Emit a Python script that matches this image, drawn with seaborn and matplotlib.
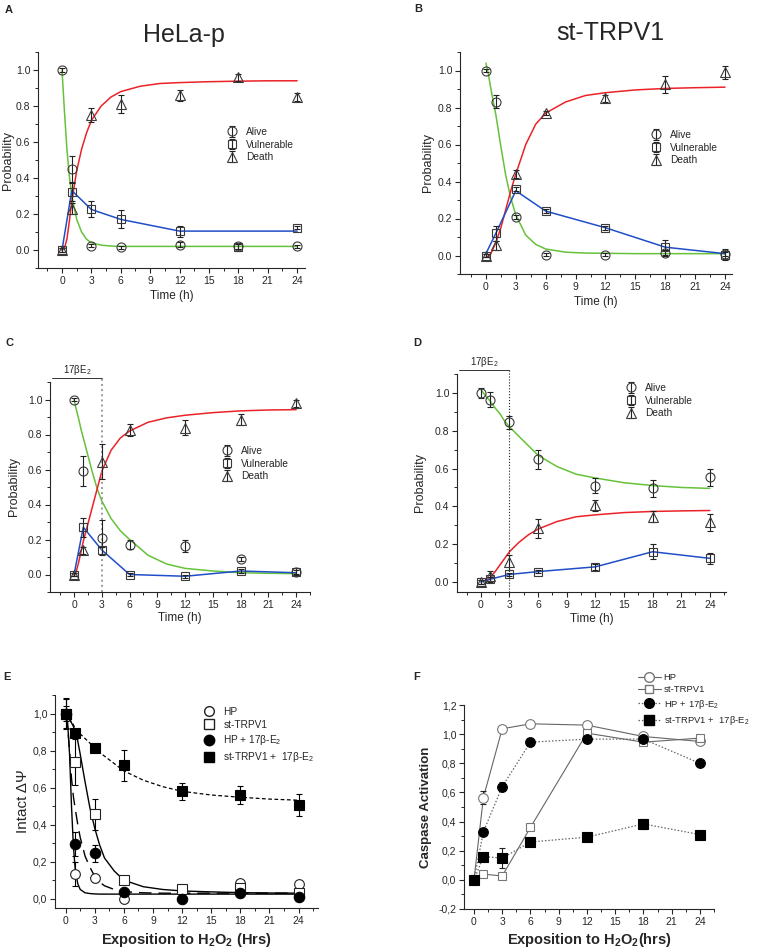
import matplotlib
matplotlib.use("Agg")
import matplotlib.pyplot as plt
import matplotlib.transforms as mtransforms
from matplotlib.lines import Line2D
from matplotlib.ticker import MultipleLocator, FuncFormatter
import seaborn as sns

# ---------------- data ----------------
t = [0, 1, 3, 6, 12, 18, 24]

# A: HeLa-p
A_alive = [1.0, 0.45, 0.025, 0.015, 0.03, 0.02, 0.02]
A_alive_err = [0.01, 0.07, 0.01, 0.01, 0.015, 0.015, 0.01]
A_vul = [0.0, 0.32, 0.23, 0.17, 0.105, 0.015, 0.125]
A_vul_err = [0.01, 0.05, 0.045, 0.05, 0.03, 0.02, 0.01]
A_death = [0.0, 0.23, 0.75, 0.81, 0.86, 0.96, 0.85]
A_death_err = [0.01, 0.03, 0.04, 0.05, 0.03, 0.02, 0.02]
A_vul_line = [0.0, 0.33, 0.225, 0.17, 0.105, 0.105, 0.105]

# B: st-TRPV1
B_alive = [1.0, 0.83, 0.21, 0.005, 0.005, 0.015, 0.01]
B_alive_err = [0.01, 0.035, 0.01, 0.01, 0.01, 0.015, 0.01]
B_vul = [0.0, 0.12, 0.36, 0.24, 0.15, 0.045, 0.005]
B_vul_err = [0.01, 0.04, 0.01, 0.01, 0.01, 0.04, 0.03]
B_death = [0.0, 0.055, 0.44, 0.77, 0.85, 0.925, 0.99]
B_death_err = [0.01, 0.025, 0.02, 0.01, 0.02, 0.045, 0.035]
B_vul_line = [0.01, 0.12, 0.35, 0.24, 0.15, 0.045, 0.01]

# C: HeLa-p + 17bE2
C_alive = [1.0, 0.59, 0.21, 0.17, 0.165, 0.09, 0.015]
C_alive_err = [0.01, 0.085, 0.1, 0.025, 0.035, 0.01, 0.02]
C_vul = [0.0, 0.27, 0.14, 0.0, -0.01, 0.02, 0.015]
C_vul_err = [0.01, 0.055, 0.02, 0.01, 0.01, 0.01, 0.01]
C_death = [0.0, 0.14, 0.645, 0.825, 0.84, 0.885, 0.98]
C_death_err = [0.01, 0.02, 0.1, 0.035, 0.045, 0.03, 0.02]
C_vul_line = [0.0, 0.27, 0.14, 0.0, -0.01, 0.02, 0.01]

# D: st-TRPV1 + 17bE2
D_alive = [1.0, 0.965, 0.845, 0.65, 0.51, 0.495, 0.555]
D_alive_err = [0.025, 0.04, 0.035, 0.05, 0.04, 0.045, 0.045]
D_vul = [0.0, 0.015, 0.04, 0.055, 0.08, 0.16, 0.125]
D_vul_err = [0.01, 0.01, 0.01, 0.01, 0.015, 0.04, 0.03]
D_death = [0.0, 0.03, 0.105, 0.285, 0.405, 0.345, 0.315]
D_death_err = [0.01, 0.03, 0.04, 0.05, 0.03, 0.03, 0.045]
D_vul_line = [0.0, 0.015, 0.04, 0.055, 0.08, 0.16, 0.125]

# fitted curves of A-D, read at these times
fit_t = [0, 0.25, 0.5, 0.75, 1, 1.5, 2, 2.5, 3, 4, 5, 6, 8, 10, 12, 15, 18, 21, 24]
A_alive_fit = [1.0, 0.77, 0.56, 0.41, 0.30, 0.17, 0.10, 0.06, 0.04, 0.027, 0.022, 0.02,
               0.02, 0.02, 0.02, 0.02, 0.02, 0.02, 0.02]
A_death_fit = [0.0, 0.01, 0.06, 0.16, 0.27, 0.44, 0.56, 0.65, 0.72, 0.80, 0.85, 0.88,
               0.91, 0.925, 0.93, 0.935, 0.938, 0.94, 0.94]
B_alive_fit = [1.04, 0.98, 0.90, 0.83, 0.76, 0.59, 0.43, 0.31, 0.22, 0.11, 0.06, 0.035,
               0.018, 0.013, 0.012, 0.01, 0.01, 0.01, 0.01]
B_death_fit = [-0.01, -0.005, 0.01, 0.04, 0.07, 0.15, 0.25, 0.35, 0.44, 0.60, 0.71, 0.77,
               0.83, 0.865, 0.88, 0.895, 0.903, 0.907, 0.91]
C_alive_fit = [1.0, 0.94, 0.89, 0.83, 0.78, 0.68, 0.58, 0.49, 0.42, 0.32, 0.25, 0.20,
               0.11, 0.06, 0.035, 0.02, 0.01, 0.007, 0.005]
C_death_fit = [-0.01, 0.02, 0.07, 0.13, 0.19, 0.29, 0.39, 0.49, 0.59, 0.71, 0.78, 0.82,
               0.87, 0.895, 0.91, 0.925, 0.935, 0.94, 0.942]
D_alive_fit = [1.02, 1.0, 0.985, 0.97, 0.955, 0.92, 0.89, 0.85, 0.82, 0.77, 0.72, 0.67,
               0.61, 0.57, 0.55, 0.525, 0.51, 0.50, 0.495]
D_death_fit = [None, None, 0.0, 0.012, 0.025, 0.055, 0.09, 0.125, 0.16, 0.21, 0.25, 0.28,
               0.32, 0.345, 0.355, 0.367, 0.373, 0.376, 0.378]

# E: intact mitochondrial potential
E_hp = [1.0, 0.135, 0.11, 0.0, 0.055, 0.085, 0.08]
E_hp_err = [0.08, 0.065, 0.02, 0.01, 0.01, 0.01, 0.01]
E_st = [1.0, 0.74, 0.455, 0.1, 0.05, 0.06, 0.03]
E_st_err = [0.085, 0.125, 0.085, 0.01, 0.01, 0.01, 0.01]
E_hpe = [1.0, 0.295, 0.245, 0.035, 0.0, 0.032, 0.01]
E_hpe_err = [0.01, 0.065, 0.045, 0.01, 0.01, 0.01, 0.01]
E_ste = [1.0, 0.895, 0.815, 0.72, 0.58, 0.56, 0.507]
E_ste_err = [0.04, 0.02, 0.02, 0.085, 0.045, 0.05, 0.06]

E_fit_t = [0, 0.2, 0.4, 0.6, 0.8, 1, 1.25, 1.5, 2, 2.5, 3, 3.5, 4, 5, 6, 8, 10, 12, 15, 18, 21, 24]
E_hp_fit = [0.98, 0.95, 0.78, 0.50, 0.28, 0.15, 0.08, 0.05, 0.032, 0.028, 0.026, 0.025,
            0.025, 0.025, 0.025, 0.025, 0.025, 0.025, 0.025, 0.025, 0.025, 0.025]
E_hpe_fit = [0.99, 0.93, 0.80, 0.65, 0.55, 0.48, 0.40, 0.33, 0.23, 0.17, 0.12, 0.09,
             0.07, 0.05, 0.038, 0.032, 0.03, 0.03, 0.03, 0.03, 0.03, 0.03]
E_st_fit = [0.98, 0.975, 0.965, 0.95, 0.93, 0.90, 0.85, 0.78, 0.63, 0.49, 0.38, 0.29,
            0.22, 0.15, 0.10, 0.065, 0.05, 0.042, 0.037, 0.033, 0.031, 0.03]
E_ste_fit = [1.0, 0.985, 0.97, 0.955, 0.94, 0.91, 0.90, 0.89, 0.865, 0.84, 0.815, 0.79,
             0.77, 0.73, 0.69, 0.64, 0.605, 0.58, 0.56, 0.548, 0.538, 0.532]

# F: caspase activation
F_hp = [0.0, 0.565, 1.037, 1.071, 1.062, 0.984, 0.95]
F_hp_err = [0.02, 0.045, 0.01, 0.01, 0.01, 0.01, 0.01]
F_st = [0.0, 0.039, 0.027, 0.36, 1.007, 0.945, 0.973]
F_st_err = [0.02, 0.01, 0.01, 0.01, 0.015, 0.01, 0.015]
F_hpe = [0.0, 0.33, 0.64, 0.945, 0.966, 0.966, 0.80]
F_hpe_err = [0.03, 0.01, 0.03, 0.01, 0.01, 0.01, 0.015]
F_ste = [0.0, 0.16, 0.149, 0.26, 0.293, 0.384, 0.311]
F_ste_err = [0.02, 0.01, 0.07, 0.01, 0.01, 0.035, 0.015]

# ---------------- style ----------------
sns.set_style("ticks")
plt.rcParams["font.family"] = ["Liberation Sans", "DejaVu Sans"]
plt.rcParams["mathtext.fontset"] = "custom"
plt.rcParams["mathtext.rm"] = "Liberation Sans"
plt.rcParams["mathtext.it"] = "Liberation Sans:italic"
plt.rcParams["mathtext.bf"] = "Liberation Sans:bold"

GREEN = "#66c23a"
RED = "#ec2228"
BLUE = "#1f4ec8"
W, H = 758, 952

fig = plt.figure(figsize=(W / 100, H / 100), dpi=100)


def add_ax(left, top, right, bottom):
    ax = fig.add_axes([left / W, 1 - bottom / H, (right - left) / W, (bottom - top) / H])
    ax._px = (left, top, right, bottom)
    return ax


def style(ax, xlim, ylim, comma=False):
    ax.set_xlim(*xlim)
    ax.set_ylim(*ylim)
    ax.xaxis.set_major_locator(MultipleLocator(3))
    ax.xaxis.set_minor_locator(MultipleLocator(1.5))
    ax.yaxis.set_major_locator(MultipleLocator(0.2))
    ax.yaxis.set_minor_locator(MultipleLocator(0.1))
    sns.despine(ax=ax)
    for s in ("left", "bottom"):
        ax.spines[s].set_linewidth(0.8)
    ax.tick_params(which="major", direction="out", length=3.5, width=0.8, labelsize=7.5, pad=2)
    ax.tick_params(which="minor", direction="out", length=2, width=0.7)
    if comma:
        ax.yaxis.set_major_formatter(FuncFormatter(lambda v, p: f"{round(v, 1) + 0.0:.1f}".replace(".", ",")))
    else:
        ax.yaxis.set_major_formatter(FuncFormatter(lambda v, p: f"{round(v, 1) + 0.0:.1f}"))


def labels(ax, xlabel, ylabel, ylab_x, xlab_y, size=8.5, ysize=None, weight="normal",
           yweight=None):
    left, top, right, bottom = ax._px
    ax.set_xlabel(xlabel, fontsize=size, fontweight=weight)
    ax.set_ylabel(ylabel, fontsize=ysize or size, fontweight=yweight or weight)
    ax.xaxis.set_label_coords(0.5, (bottom - xlab_y) / (bottom - top))
    ax.yaxis.set_label_coords((ylab_x - left) / (right - left), 0.5)
    ax.xaxis.label.set_va("center")
    ax.yaxis.label.set_va("center")


def prob_panel(ax, alive, alive_err, vul, vul_err, death, death_err, alive_fit, death_fit, vul_line):
    sns.lineplot(x=fit_t, y=alive_fit, ax=ax, color=GREEN, lw=1.1, estimator=None, sort=False, zorder=2)
    sns.lineplot(x=fit_t, y=death_fit, ax=ax, color=RED, lw=1.1, estimator=None, sort=False, zorder=2)
    sns.lineplot(x=t, y=vul_line, ax=ax, color=BLUE, lw=1.1, estimator=None, sort=False, zorder=2)
    kw = dict(mfc="none", mec="#3a3a3a", mew=0.8, ecolor="#222222", elinewidth=0.8,
              capsize=2, capthick=0.8, zorder=3)
    h1 = ax.errorbar(t, alive, yerr=alive_err, fmt="o", ms=6.5, label="Alive", **kw)
    h2 = ax.errorbar(t, vul, yerr=vul_err, fmt="s", ms=6, label="Vulnerable", **kw)
    h3 = ax.errorbar(t, death, yerr=death_err, fmt="^", ms=7, label="Death", **kw)
    return [h1, h2, h3]


def legend_at(ax, handles, x, y, **extra):
    kw = dict(loc="upper left", frameon=False, fontsize=7.3, handlelength=1.2,
              handletextpad=0.8, labelspacing=0.25, borderpad=0, borderaxespad=0,
              bbox_to_anchor=(x / W, 1 - y / H), bbox_transform=fig.transFigure)
    kw.update(extra)
    ax.legend(handles=handles, **kw)


def estradiol_bar(ax, x0, ybar, ytext, ls_color, ls_width):
    trans = mtransforms.blended_transform_factory(ax.transData, ax.transAxes)
    ax.plot([x0, 3], [ybar, ybar], transform=trans, color="#333333", lw=0.7, clip_on=False)
    ax.plot([3, 3], [0, ybar], transform=trans, color=ls_color, lw=ls_width, ls=":", clip_on=False)
    ax.text((x0 + 3) / 2, ytext, "17β$\\mathregular{E_2}$", transform=trans, ha="center",
            va="center", fontsize=7)


# ---------------- A ----------------
axA = add_ax(38, 52, 305, 268)
h = prob_panel(axA, A_alive, A_alive_err, A_vul, A_vul_err, A_death, A_death_err,
               A_alive_fit, A_death_fit, A_vul_line)
style(axA, (-2.45, 24.8), (-0.1, 1.1))
labels(axA, "Time (h)", "Probability", 8, 296, ysize=9)
legend_at(axA, h, 226, 127)

# ---------------- B ----------------
axB = add_ax(460, 52, 732, 274)
h = prob_panel(axB, B_alive, B_alive_err, B_vul, B_vul_err, B_death, B_death_err,
               B_alive_fit, B_death_fit, B_vul_line)
style(axB, (-2.6, 24.7), (-0.1, 1.1))
labels(axB, "Time (h)", "Probability", 428, 302, ysize=9)
legend_at(axB, h, 650, 130)

# ---------------- C ----------------
axC = add_ax(50, 382, 310, 592)
h = prob_panel(axC, C_alive, C_alive_err, C_vul, C_vul_err, C_death, C_death_err,
               C_alive_fit, C_death_fit, C_vul_line)
style(axC, (-2.6, 25.5), (-0.1, 1.1))
labels(axC, "Time (h)", "Probability", 14, 618, ysize=9)
legend_at(axC, h, 221, 446)
estradiol_bar(axC, -2.4, 1.019, 1.057, "#9a9a9a", 1.4)

# ---------------- D ----------------
axD = add_ax(457, 374, 726, 592)
h = prob_panel(axD, D_alive, D_alive_err, D_vul, D_vul_err, D_death, D_death_err,
               D_alive_fit, D_death_fit, D_vul_line)
style(axD, (-2.5, 25.7), (-0.053, 1.1))
labels(axD, "Time (h)", "Probability", 420, 619, ysize=9)
legend_at(axD, h, 625, 383)
estradiol_bar(axD, -2.3, 1.018, 1.055, "#222222", 0.8)

# ---------------- E ----------------
axE = add_ax(55, 695, 318, 908)
sns.lineplot(x=E_fit_t, y=E_hp_fit, ax=axE, color="black", lw=1.0, estimator=None, sort=False)
sns.lineplot(x=E_fit_t, y=E_st_fit, ax=axE, color="black", lw=1.0, estimator=None, sort=False)
sns.lineplot(x=E_fit_t, y=E_hpe_fit, ax=axE, color="black", lw=1.0, estimator=None, sort=False,
             dashes=False, linestyle=(0, (9, 5)))
sns.lineplot(x=E_fit_t, y=E_ste_fit, ax=axE, color="black", lw=0.9, estimator=None, sort=False,
             dashes=False, linestyle=(0, (3, 2)))
ekw = dict(ecolor="black", elinewidth=0.8, capsize=2, capthick=0.8, zorder=3, mew=0.8)
axE.errorbar(t, E_hp, yerr=E_hp_err, fmt="o", ms=7, mfc="white", mec="#222222", **ekw)
axE.errorbar(t, E_st, yerr=E_st_err, fmt="s", ms=6.5, mfc="white", mec="#222222", **ekw)
axE.errorbar(t, E_hpe, yerr=E_hpe_err, fmt="o", ms=7.5, mfc="black", mec="black", **ekw)
axE.errorbar(t, E_ste, yerr=E_ste_err, fmt="s", ms=7, mfc="black", mec="black", **ekw)
style(axE, (-1.1, 26), (-0.05, 1.1), comma=True)
labels(axE, "Exposition to H$_\\mathbf{2}$O$_\\mathbf{2}$ (Hrs)", "Intact ΔΨ", 23, 940,
       size=10.5, ysize=11, weight="bold", yweight="normal")
e_handles = [
    Line2D([], [], ls="none", marker="o", ms=7, mfc="white", mec="#222222", label="HP"),
    Line2D([], [], ls="none", marker="s", ms=6.5, mfc="white", mec="#222222", label="st-TRPV1"),
    Line2D([], [], ls="none", marker="o", ms=7.5, mfc="black", mec="black",
           label="HP + 17β-$\\mathregular{E_2}$"),
    Line2D([], [], ls="none", marker="s", ms=7, mfc="black", mec="black",
           label="st-TRPV1 +  17β-$\\mathregular{E_2}$"),
]
legend_at(axE, e_handles, 203, 707, labelspacing=0.3)

# ---------------- F ----------------
axF = add_ax(464, 705, 714, 909)
GRAY = "#666666"
sns.lineplot(x=t, y=F_hp, ax=axF, color=GRAY, lw=0.8, estimator=None, sort=False)
sns.lineplot(x=t, y=F_st, ax=axF, color=GRAY, lw=0.8, estimator=None, sort=False)
sns.lineplot(x=t, y=F_hpe, ax=axF, color=GRAY, lw=0.9, estimator=None, sort=False,
             dashes=False, linestyle=(0, (1.2, 1.5)))
sns.lineplot(x=t, y=F_ste, ax=axF, color=GRAY, lw=0.9, estimator=None, sort=False,
             dashes=False, linestyle=(0, (1.2, 1.5)))
fkw = dict(ecolor="#222222", elinewidth=0.8, capsize=2, capthick=0.8, zorder=3, mew=0.8)
axF.errorbar(t, F_hp, yerr=F_hp_err, fmt="o", ms=7, mfc="white", mec="#777777", **fkw)
axF.errorbar(t, F_st, yerr=F_st_err, fmt="s", ms=6, mfc="white", mec="#777777", **fkw)
axF.errorbar(t, F_hpe, yerr=F_hpe_err, fmt="o", ms=7, mfc="black", mec="black", **fkw)
axF.errorbar(t, F_ste, yerr=F_ste_err, fmt="s", ms=6.5, mfc="black", mec="black", **fkw)
style(axF, (-1.06, 25.5), (-0.2, 1.2001), comma=True)
labels(axF, "Exposition to H$_\\mathbf{2}$O$_\\mathbf{2}$(hrs)", "Caspase Activation", 426, 940,
       size=10.5, ysize=9.5, weight="bold")
f_handles = [
    Line2D([], [], color=GRAY, lw=0.8, marker="o", ms=7, mfc="white", mec="#777777", label="HP"),
    Line2D([], [], color=GRAY, lw=0.8, marker="s", ms=6, mfc="white", mec="#777777",
           label="st-TRPV1"),
    Line2D([], [], color=GRAY, lw=0.9, ls=(0, (1.2, 1.5)), marker="o", ms=7, mfc="black",
           mec="black", label="HP + 17β-$\\mathregular{E_2}$"),
    Line2D([], [], color=GRAY, lw=0.9, ls=(0, (1.2, 1.5)), marker="s", ms=6.5, mfc="black",
           mec="black", label="st-TRPV1 +  17β-$\\mathregular{E_2}$"),
]
legend_at(axF, f_handles, 638, 673, fontsize=6.8, handlelength=2.4, handletextpad=0.3,
          labelspacing=0.35)

# ---------------- titles and panel letters ----------------
fig.text(184 / W, 1 - 35 / H, "HeLa-p", ha="center", va="center", fontsize=18)
fig.text(610 / W, 1 - 33 / H, "st-TRPV1", ha="center", va="center", fontsize=18)
for letter, x, y in [("A", 9, 10), ("B", 418, 9), ("C", 9, 343), ("D", 417, 343),
                     ("E", 7, 677), ("F", 417, 677)]:
    fig.text(x / W, 1 - y / H, letter, ha="center", va="center", fontsize=8, fontweight="bold")

fig.savefig("out.png", dpi=100)
